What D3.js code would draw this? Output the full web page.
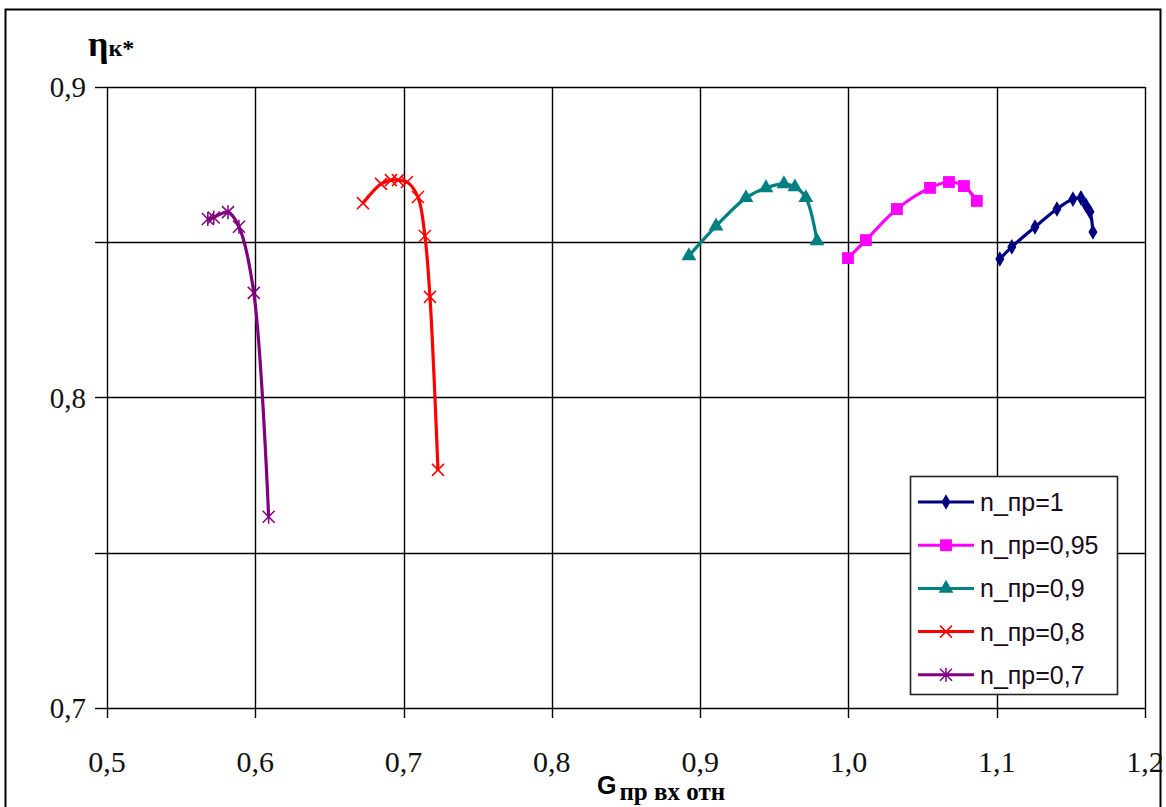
<!DOCTYPE html>
<html><head><meta charset="utf-8">
<script src="https://cdn.jsdelivr.net/npm/d3@7"></script>
<style>body{margin:0;background:#fff}svg{display:block}</style>
</head><body><svg id="c" width="1166" height="807"></svg>
<script>
const seriesNames = ["n_пр=1","n_пр=0,95","n_пр=0,9","n_пр=0,8","n_пр=0,7"];
const seriesColors = ["#000080","#FF00FF","#008080","#FF0000","#800080"];
const seriesMarkers = ["diamond","square","triangle","x","star"];
const gx_n100 = [1.1021,1.1102,1.1258,1.1406,1.1514,1.1568,1.1601,1.1629,1.1649];
const eta_n100 = [0.8446,0.8485,0.8549,0.8607,0.8639,0.8643,0.8620,0.8598,0.8533];
const gx_n095 = [0.9997,1.0118,1.0327,1.0550,1.0678,1.0779,1.0866];
const eta_n095 = [0.8449,0.8507,0.8607,0.8675,0.8694,0.8681,0.8633];
const gx_n090 = [0.8924,0.9107,0.9309,0.9444,0.9565,0.9639,0.9713,0.9788];
const eta_n090 = [0.8456,0.8552,0.8643,0.8675,0.8688,0.8678,0.8643,0.8504];
const gx_n080 = [0.6726,0.6848,0.6915,0.6962,0.7023,0.7097,0.7144,0.7178,0.7232];
const eta_n080 = [0.8626,0.8688,0.8700,0.8700,0.8694,0.8646,0.8520,0.8324,0.7767];
const gx_n070 = [0.5680,0.5720,0.5816,0.5890,0.5990,0.6090];
const eta_n070 = [0.8575,0.8580,0.8597,0.8550,0.8337,0.7616];
const xTicks = [0.5,0.6,0.7,0.8,0.9,1.0,1.1,1.2];
const xTickLabels = ["0,5","0,6","0,7","0,8","0,9","1,0","1,1","1,2"];
const yGrid = [0.7,0.75,0.8,0.85,0.9];
const yTicks = [0.7,0.8,0.9];
const yTickLabels = ["0,7","0,8","0,9"];

const allX = [gx_n100,gx_n095,gx_n090,gx_n080,gx_n070];
const allY = [eta_n100,eta_n095,eta_n090,eta_n080,eta_n070];

const svg = d3.select("#c");
const x = d3.scaleLinear().domain([0.5,1.2]).range([107,1145]);
const y = d3.scaleLinear().domain([0.7,0.9]).range([708,87]);

svg.append("rect").attr("x",5.5).attr("y",9.5).attr("width",1155).attr("height",830)
  .attr("fill","none").attr("stroke","#000").attr("stroke-width",2);

const g = svg.append("g");
g.selectAll(".hg").data(yGrid).join("line")
  .attr("x1",x(0.5)).attr("x2",x(1.2)).attr("y1",d=>Math.round(y(d))+0.5).attr("y2",d=>Math.round(y(d))+0.5)
  .attr("stroke","#000").attr("stroke-width",1.4);
g.selectAll(".vg").data(xTicks).join("line")
  .attr("x1",d=>Math.round(x(d))+0.5).attr("x2",d=>Math.round(x(d))+0.5).attr("y1",y(0.9)).attr("y2",y(0.7)+10)
  .attr("stroke","#000").attr("stroke-width",1.4);
g.selectAll(".yt").data(yGrid).join("line")
  .attr("x1",x(0.5)-12).attr("x2",x(0.5)).attr("y1",d=>Math.round(y(d))+0.5).attr("y2",d=>Math.round(y(d))+0.5)
  .attr("stroke","#000").attr("stroke-width",1.4);

svg.selectAll(".xl").data(xTicks).join("text")
  .attr("x",d=>x(d)).attr("y",772).attr("text-anchor","middle")
  .attr("font-family","'Liberation Serif','Times New Roman',serif").attr("font-size",30).attr("fill","#111")
  .text((d,i)=>xTickLabels[i]);
svg.selectAll(".yl").data(yTicks).join("text")
  .attr("x",86).attr("y",d=>y(d)+10).attr("text-anchor","end")
  .attr("font-family","'Liberation Serif','Times New Roman',serif").attr("font-size",29).attr("fill","#111")
  .text((d,i)=>yTickLabels[i]);

const yt = svg.append("text").attr("x",88).attr("y",56)
  .attr("font-family","'Liberation Serif','Times New Roman',serif").attr("font-weight","bold").attr("fill","#000");
yt.append("tspan").attr("font-size",36).text("η");
yt.append("tspan").attr("font-size",24).text("к*");
const xt = svg.append("text").attr("x",597).attr("y",794).attr("fill","#000").attr("font-weight","bold");
xt.append("tspan").attr("font-family","'Liberation Sans',Arial,sans-serif").attr("font-size",25).text("G");
xt.append("tspan").attr("font-family","'Liberation Serif','Times New Roman',serif").attr("font-size",25).attr("dx",3).attr("dy",6).text("пр вх отн");

function marker(sel, type, color){
  if(type==="diamond") sel.append("path").attr("d",d3.symbol(d3.symbolDiamond,70)()).attr("fill",color);
  else if(type==="square") sel.append("path").attr("d",d3.symbol(d3.symbolSquare,140)()).attr("fill",color);
  else if(type==="triangle") sel.append("path").attr("d",d3.symbol(d3.symbolTriangle,95)()).attr("fill",color);
  else if(type==="x") sel.append("path").attr("d","M-6,-6L6,6M-6,6L6,-6").attr("stroke",color).attr("stroke-width",1.5).attr("fill","none");
  else sel.append("path").attr("d","M-6,-6L6,6M-6,6L6,-6M0,-7L0,7").attr("stroke",color).attr("stroke-width",1.5).attr("fill","none");
}

const line = d3.line().x(d=>x(d[0])).y(d=>y(d[1])).curve(d3.curveCatmullRom.alpha(0.5));
seriesNames.forEach((name,i)=>{
  const pts = allX[i].map((v,j)=>[v,allY[i][j]]);
  svg.append("path").datum(pts).attr("d",line).attr("fill","none")
    .attr("stroke",seriesColors[i]).attr("stroke-width",3.2);
  pts.forEach(p=>{
    const m = svg.append("g").attr("transform",`translate(${x(p[0])},${y(p[1])})`);
    marker(m, seriesMarkers[i], seriesColors[i]);
  });
});

const lg = svg.append("g");
lg.append("rect").attr("x",910.5).attr("y",476.5).attr("width",207).attr("height",218)
  .attr("fill","#fff").attr("stroke","#222").attr("stroke-width",1.6);
seriesNames.forEach((name,i)=>{
  const cy = 502 + i*43.2;
  lg.append("line").attr("x1",918).attr("x2",974).attr("y1",cy).attr("y2",cy)
    .attr("stroke",seriesColors[i]).attr("stroke-width",3);
  const m = lg.append("g").attr("transform",`translate(946,${cy})`);
  marker(m, seriesMarkers[i], seriesColors[i]);
  lg.append("text").attr("x",980).attr("y",cy+9).attr("font-family","'Liberation Sans',Arial,sans-serif")
    .attr("font-size",25).attr("fill","#1a0a20").text(name);
});
</script></body></html>
